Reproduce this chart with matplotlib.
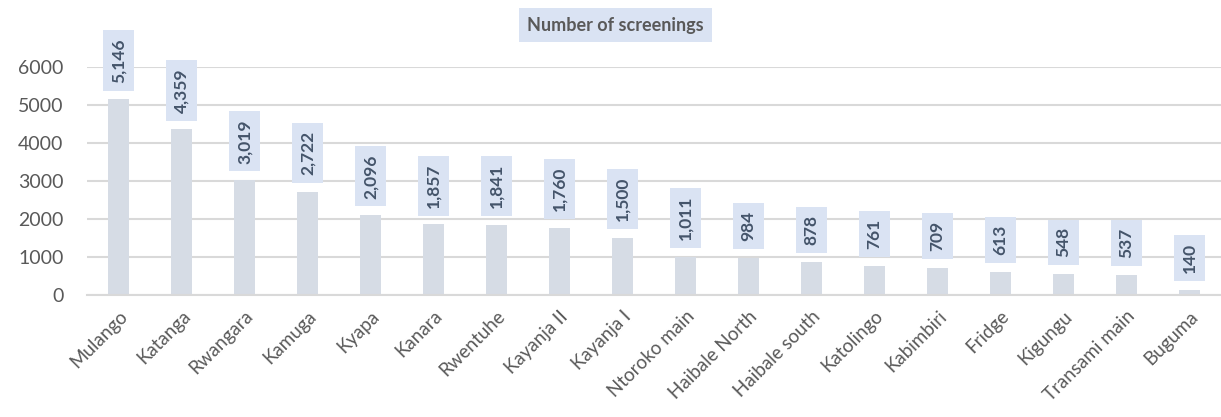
import matplotlib
matplotlib.use("Agg")
import matplotlib.pyplot as plt
import numpy as np

sites = ["Mulango", "Katanga", "Rwangara", "Kamuga", "Kyapa", "Kanara",
         "Rwentuhe", "Kayanja II", "Kayanja I", "Ntoroko main", "Haibale North",
         "Haibale south", "Katolingo", "Kabimbiri", "Fridge", "Kigungu",
         "Transami main", "Buguma"]
screenings = [5146, 4359, 3019, 2722, 2096, 1857, 1841, 1760, 1500, 1011,
              984, 878, 761, 709, 613, 548, 537, 140]
yticks = [0, 1000, 2000, 3000, 4000, 5000, 6000]

plt.rcParams["font.family"] = ["Lato", "DejaVu Sans"]

fig = plt.figure(figsize=(12.21, 4.17), dpi=100)
ax = fig.add_axes([0.0713, 0.2926, 0.9287, 0.5467])

x = np.arange(len(sites))
ax.bar(x, screenings, width=0.32, color="#D6DCE5", zorder=2)

for xi, v in zip(x, screenings):
    ax.annotate(f"{v:,}", (xi, v), xytext=(0, 12), textcoords="offset points",
                rotation=90, ha="center", va="bottom", fontsize=12.5,
                fontweight="bold", color="#44546A", annotation_clip=False,
                bbox=dict(boxstyle="square,pad=0.45", fc="#DAE3F3", ec="none"),
                zorder=3)

ax.set_xlim(-0.5, len(sites) - 0.5)
ax.set_ylim(0, 6000)
ax.set_yticks(yticks)
ax.set_yticklabels([str(t) for t in yticks], fontsize=14, color="#595959")
ax.set_xticks(x)
ax.set_xticklabels(sites, rotation=45, ha="right", rotation_mode="anchor",
                   fontsize=13.5, color="#595959")
ax.tick_params(length=0, axis="both")
ax.tick_params(axis="y", pad=17)
ax.tick_params(axis="x", pad=9)

ax.grid(axis="y", color="#D9D9D9", linewidth=1.5, zorder=0)
for s in ["top", "right", "left"]:
    ax.spines[s].set_visible(False)
ax.spines["bottom"].set_color("#D9D9D9")
ax.spines["bottom"].set_linewidth(1.5)

fig.text(0.504, 0.94, "Number of screenings", ha="center", va="center",
         fontsize=13, fontweight="bold", color="#595959",
         bbox=dict(boxstyle="square,pad=0.45", fc="#DAE3F3", ec="none"))

fig.savefig("out.png", dpi=100)
